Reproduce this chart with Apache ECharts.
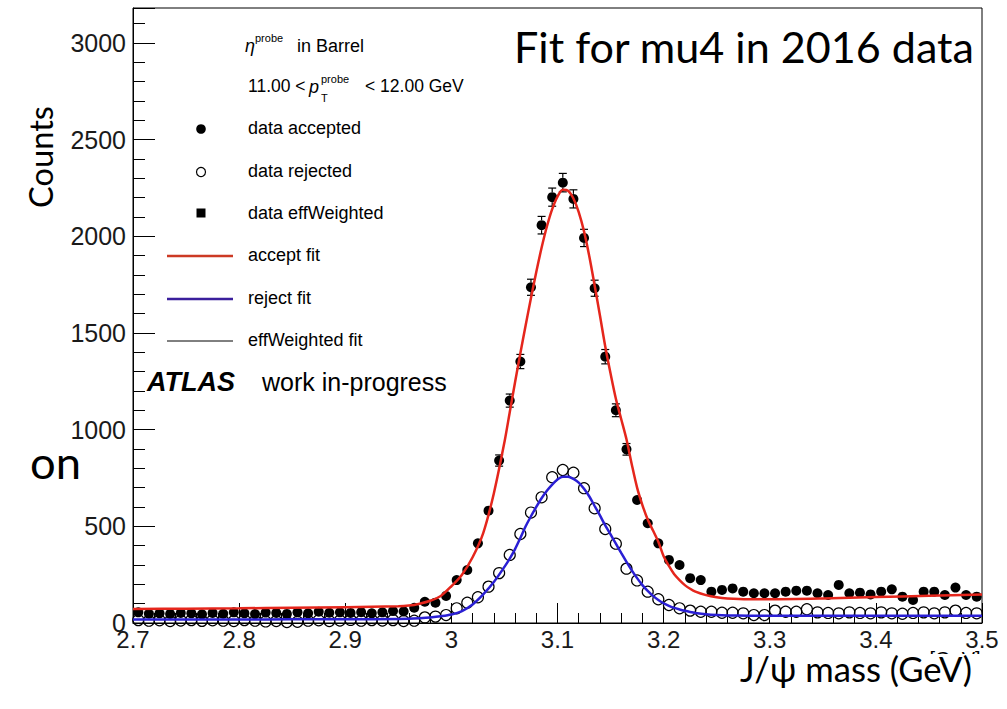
<!DOCTYPE html>
<html>
<head>
<meta charset="utf-8">
<script src="https://cdn.jsdelivr.net/npm/echarts@6/dist/echarts.min.js"></script>
<style>
html,body{margin:0;padding:0;background:#fff;}
#chart{width:1007px;height:709px;}
</style>
</head>
<body>
<div id="chart"></div>
<script>
// ---------- DATA ----------
const binCenters = [
  2.705,2.715,2.725,2.735,2.745,2.755,2.765,2.775,2.785,2.795,
  2.805,2.815,2.825,2.835,2.845,2.855,2.865,2.875,2.885,2.895,
  2.905,2.915,2.925,2.935,2.945,2.955,2.965,2.975,2.985,2.995,
  3.005,3.015,3.025,3.035,3.045,3.055,3.065,3.075,3.085,3.095,
  3.105,3.115,3.125,3.135,3.145,3.155,3.165,3.175,3.185,3.195,
  3.205,3.215,3.225,3.235,3.245,3.255,3.265,3.275,3.285,3.295,
  3.305,3.315,3.325,3.335,3.345,3.355,3.365,3.375,3.385,3.395,
  3.405,3.415,3.425,3.435,3.445,3.455,3.465,3.475,3.485,3.495
];
const dataAccepted = [
  55,48,50,47,52,50,45,52,48,55,
  50,46,54,52,47,55,50,58,53,55,
  52,56,50,55,62,60,79,110,105,140,
  222,274,412,581,840,1150,1352,1736,2057,2202,
  2277,2193,1991,1731,1377,1100,898,636,516,412,
  326,300,232,222,162,171,179,162,154,154,
  154,162,167,167,154,145,197,154,157,148,
  162,174,136,119,162,162,145,183,145,136
];
const dataRejected = [
  15,12,14,10,13,15,11,14,12,10,
  15,12,8,10,5,6,12,14,10,13,
  16,12,15,13,15,10,12,29,33,41,
  76,105,133,188,258,352,460,571,650,754,
  791,777,697,593,486,410,281,220,162,123,
  93,76,64,58,58,53,53,50,41,41,
  64,58,58,71,55,52,50,55,52,50,
  55,50,48,52,55,50,55,64,52,50
];
const fitX = [
  2.70,2.75,2.80,2.85,2.90,2.95,2.96,2.97,2.98,2.99,
  3.00,3.01,3.02,3.03,3.04,3.05,3.055,3.06,3.065,3.07,
  3.075,3.08,3.085,3.09,3.095,3.10,3.105,3.11,3.115,3.12,
  3.125,3.13,3.135,3.14,3.145,3.15,3.155,3.16,3.165,3.17,
  3.175,3.18,3.185,3.19,3.195,3.20,3.205,3.21,3.215,3.22,
  3.225,3.23,3.24,3.25,3.26,3.28,3.30,3.35,3.40,3.45,3.50
];
const acceptFit = [
  72,74,76,79,82,86,90,100,115,140,
  190,250,340,465,670,935,1090,1245,1395,1540,
  1680,1815,1940,2050,2140,2205,2240,2235,2195,2125,
  2025,1895,1745,1590,1430,1290,1160,1055,950,820,
  700,610,535,478,420,345,295,252,222,196,
  177,162,144,133,127,123,123,127,134,141,148
];
const rejectFit = [
  18,18,18,19,19,21,22,25,29,35,
  44,62,96,148,212,290,333,382,440,500,
  552,600,645,684,716,742,756,756,745,726,
  694,654,605,556,505,458,410,362,316,272,
  232,196,166,140,119,102,89,78,70,63,
  57,52,45,41,39,38,38,38,38,38,38
];
const yTickLabels = [0,500,1000,1500,2000,2500,3000];
const xTickLabels = [2.7,2.8,2.9,3,3.1,3.2,3.3,3.4,3.5];

// ---------- helpers ----------
const ROOTFONT = '"Liberation Sans", Arial, sans-serif';
const SLIDEFONT = 'Lato, "Open Sans", sans-serif';
function fitSize(text, family, weight, target){
  const c = document.createElement('canvas').getContext('2d');
  c.font = weight + ' 100px ' + family;
  return 100 * target / c.measureText(text).width;
}
const pairs = (xs, ys) => xs.map((x,i)=>[x, ys[i]]);
const accPairs = pairs(binCenters, dataAccepted);
const rejPairs = pairs(binCenters, dataRejected);
const MARK = 10;

const chart = echarts.init(document.getElementById('chart'), null, {renderer:'svg'});

const titleSize = fitSize('Fit for mu4 in 2016 data', SLIDEFONT, 'normal', 461);
const countsSize = fitSize('Counts', SLIDEFONT, 'normal', 102);
const massSize = fitSize('J/ψ mass (GeV)', SLIDEFONT, 'normal', 232);
const onSize = fitSize('on', SLIDEFONT, 'normal', 51);

function txt(x, y, text, size, opts){
  opts = opts || {};
  const st = {text:text, fill:opts.color||'#000', font:(opts.style||'normal')+' '+(opts.weight||'normal')+' '+size+'px '+(opts.family||ROOTFONT),
      textAlign:opts.align||'left', textVerticalAlign:opts.valign||'middle'};
  if (opts.lineHeight) st.lineHeight = opts.lineHeight;
  return {type:'text', x:x, y:y, z:opts.z || 100, rotation: opts.rotation || 0, style:st};
}

const graphics = [
  // legend header
  txt(245, 46, 'η', 18, {style:'italic'}),
  txt(255, 38, 'probe', 11),
  txt(297, 46, 'in Barrel', 18),
  txt(248, 86, '11.00 <', 17.5),
  txt(309, 87, 'p', 18, {style:'italic'}),
  txt(321, 79, 'probe', 11),
  txt(321, 98, 'T', 11),
  txt(365, 86, '< 12.00 GeV', 17.5),
  // legend entries
  {type:'circle', z:100, shape:{cx:201, cy:129, r:4.8}, style:{fill:'#000'}},
  txt(248, 128, 'data accepted', 18),
  {type:'circle', z:100, shape:{cx:201, cy:172, r:4.5}, style:{fill:'none', stroke:'#000', lineWidth:1.2}},
  txt(248, 171, 'data rejected', 18),
  {type:'rect', z:100, shape:{x:196.5, y:208.5, width:9, height:9}, style:{fill:'#000'}},
  txt(248, 213, 'data effWeighted', 18),
  {type:'line', z:100, shape:{x1:167, y1:256, x2:233, y2:256}, style:{stroke:'#cc3a24', lineWidth:2.5}},
  txt(248, 255, 'accept fit', 18),
  {type:'line', z:100, shape:{x1:167, y1:299, x2:233, y2:299}, style:{stroke:'#3a1f9c', lineWidth:2.5}},
  txt(248, 298, 'reject fit', 18),
  {type:'line', z:100, shape:{x1:167, y1:341, x2:233, y2:341}, style:{stroke:'#000', lineWidth:1}},
  txt(248, 340, 'effWeighted fit', 18),
  // ATLAS label
  txt(147, 382, 'ATLAS', 27, {style:'italic', weight:'bold'}),
  txt(262, 382, 'work in-progress', 25),
  // slide overlays
  txt(514, 46, 'Fit for mu4 in 2016 data', titleSize, {family:SLIDEFONT}),
  txt(40, 157, 'Counts', countsSize, {family:SLIDEFONT, align:'center', rotation:Math.PI/2}),
  txt(30, 461, 'on', onSize, {family:SLIDEFONT}),
  txt(955, 659, '[GeV]', 20, {align:'center', lineHeight:16}),
  {type:'rect', z:101, shape:{x:880, y:654, width:127, height:55}, style:{fill:'#fff'}},
  txt(740, 668, 'J/ψ mass (GeV)', massSize, {family:SLIDEFONT, lineHeight:24, z:102})
];

function errRender(params, api){
  const x = api.value(0), y = api.value(1);
  const e = Math.sqrt(y);
  const c = api.coord([x, y]);
  const t = api.coord([x, y + e]);
  const b = api.coord([x, y - e]);
  const r = MARK/2;
  const children = [];
  const st = {stroke:'#000', lineWidth:1.2};
  if (c[1] - t[1] > r + 0.5) {
    children.push({type:'line', shape:{x1:c[0], y1:t[1], x2:c[0], y2:c[1]-r}, style:st});
    children.push({type:'line', shape:{x1:c[0]-4, y1:t[1], x2:c[0]+4, y2:t[1]}, style:st});
  }
  if (b[1] - c[1] > r + 0.5) {
    children.push({type:'line', shape:{x1:c[0], y1:c[1]+r, x2:c[0], y2:b[1]}, style:st});
    children.push({type:'line', shape:{x1:c[0]-4, y1:b[1], x2:c[0]+4, y2:b[1]}, style:st});
  }
  return {type:'group', children:children};
}

const option = {
  animation:false,
  backgroundColor:'#fff',
  grid:{left:133, right:25, top:8, bottom:86, show:true, borderColor:'#000', borderWidth:1, backgroundColor:'transparent'},
  xAxis:[{
    type:'value', min:2.7, max:3.5, interval:0.1,
    axisLine:{show:true, onZero:false, lineStyle:{color:'#000', width:1}},
    axisTick:{show:true, inside:true, length:20, lineStyle:{color:'#000'}},
    minorTick:{show:true, splitNumber:5, length:10, lineStyle:{color:'#000'}},
    splitLine:{show:false}, minorSplitLine:{show:false},
    axisLabel:{margin:7, lineHeight:18, color:'#1a1a1a', fontSize:24, fontFamily:ROOTFONT,
      formatter:function(v){ const r = Math.round(v*10)/10; return xTickLabels.indexOf(r) >= 0 ? String(r) : ''; }}
  }],
  yAxis:[{
    type:'value', min:0, max:3180, interval:500,
    axisLine:{show:true, onZero:false, lineStyle:{color:'#000', width:1}},
    axisTick:{show:true, inside:true, length:22, lineStyle:{color:'#000'}},
    splitLine:{show:false},
    axisLabel:{margin:7, color:'#1a1a1a', fontSize:25, fontFamily:ROOTFONT,
      formatter:function(v){ return yTickLabels.indexOf(v) >= 0 ? String(v) : ''; }}
  },{
    type:'value', min:0, max:3180, interval:100, position:'left',
    axisLine:{show:false}, axisLabel:{show:false}, splitLine:{show:false},
    axisTick:{show:true, inside:true, length:12, lineStyle:{color:'#000'}}
  }],
  series:[
    {type:'custom', name:'err', renderItem:errRender, data:accPairs, z:2, silent:true,
      encode:{x:0, y:1}},
    {type:'scatter', name:'data accepted', data:accPairs, symbol:'circle', symbolSize:MARK, z:3,
      itemStyle:{color:'#000', opacity:1}},
    {type:'scatter', name:'data rejected', data:rejPairs, symbol:'circle', symbolSize:MARK+1, z:3,
      itemStyle:{color:'rgba(0,0,0,0)', borderColor:'#000', borderWidth:1.2, opacity:1}},
    {type:'line', name:'accept fit', data:pairs(fitX, acceptFit), smooth:0.3, showSymbol:false, z:5,
      lineStyle:{color:'#e5261c', width:2.5}},
    {type:'line', name:'reject fit', data:pairs(fitX, rejectFit), smooth:0.3, showSymbol:false, z:5,
      lineStyle:{color:'#2a1fd4', width:2.5}}
  ],
  graphic:graphics
};
chart.setOption(option);
</script>
</body>
</html>
